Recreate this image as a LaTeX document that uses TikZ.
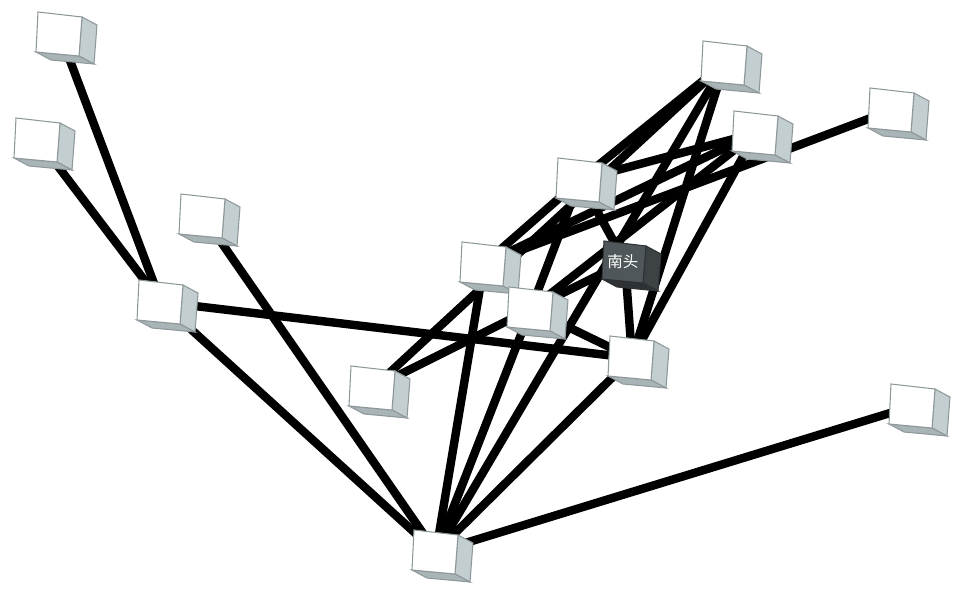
\documentclass[tikz,border=0pt]{standalone}
\usepackage{fontspec}
\newfontfamily\cjkfont{Noto Sans CJK SC}
\definecolor{cubeside}{HTML}{C3CED1}
\definecolor{cubebottom}{HTML}{A9B4B7}
\definecolor{cubeedge}{HTML}{8E989B}
\definecolor{darkfront}{HTML}{50575A}
\definecolor{darkside}{HTML}{3D4245}
\definecolor{darkbottom}{HTML}{2E3234}
\tikzset{
	cube/.pic={
		\filldraw[fill=cubeside,draw=cubeedge,line width=.3pt] (.22,.17) -- (.37,.09) -- (.34,-.30) -- (.19,-.22) -- cycle;
		\filldraw[fill=cubebottom,draw=cubeedge,line width=.3pt] (-.24,-.18) -- (.19,-.22) -- (.34,-.30) -- (-.09,-.26) -- cycle;
		\filldraw[fill=white,draw=cubeedge,line width=.3pt] (-.22,.22) -- (.22,.17) -- (.19,-.22) -- (-.24,-.18) -- cycle;
	},
	darkcube/.pic={
		\filldraw[fill=darkside,draw=darkbottom,line width=.3pt] (.21,.16) -- (.36,.08) -- (.33,-.29) -- (.18,-.21) -- cycle;
		\filldraw[fill=darkbottom,draw=darkbottom,line width=.3pt] (-.23,-.17) -- (.18,-.21) -- (.33,-.29) -- (-.08,-.25) -- cycle;
		\filldraw[fill=darkfront,draw=darkbottom,line width=.3pt] (-.21,.21) -- (.21,.16) -- (.18,-.21) -- (-.23,-.17) -- cycle;
	}
}
\begin{document}
\begin{tikzpicture}[link/.style={line width=2.4pt,black}]
	\useasboundingbox (0,0) rectangle (9.6,5.94);
	\coordinate (A) at (0.60,5.60); \coordinate (B) at (0.38,4.54);
	\coordinate (C) at (2.03,3.78); \coordinate (D) at (1.61,2.92);
	\coordinate (E) at (7.25,5.31); \coordinate (F) at (8.92,4.84);
	\coordinate (G) at (7.56,4.61); \coordinate (H) at (5.80,4.14);
	\coordinate (I) at (4.84,3.30); \coordinate (N) at (6.25,3.32);
	\coordinate (J) at (5.31,2.85); \coordinate (K) at (6.32,2.36);
	\coordinate (L) at (3.73,2.06); \coordinate (M) at (9.13,1.88);
	\coordinate (P) at (4.36,0.42);
	
	\draw[link] (A) -- (D); \draw[link] (B) -- (D); \draw[link] (D) -- (K); \draw[link] (D) -- (P);
	\draw[link] (C) -- (P); \draw[link] (P) -- (M); \draw[link] (P) -- (I); \draw[link] (P) -- (J);
	\draw[link] (P) -- (E); \draw[link] (P) -- (K);
	\draw[link] (L) -- (E); \draw[link] (L) -- (J); \draw[link] (J) -- (K);
	\draw[link] (I) -- (F); \draw[link] (I) -- (G); \draw[link] (H) -- (G); \draw[link] (H) -- (E);
	\draw[link] (E) -- (K); \draw[link] (G) -- (K); \draw[link] (H) -- (N); \draw[link] (N) -- (K);
	\draw[link] (H) -- (J); \draw[link] (H) -- (I); \draw[link] (J) -- (N); \draw[link] (J) -- (G);
	
	\foreach \c in {A,B,C,D,E,F,G,H,I,J,K,L,M,P} \pic at (\c) {cube};
	\pic at (N) {darkcube};
	\node[text=white,font=\cjkfont\fontsize{4.4}{5}\selectfont,inner sep=0pt,xshift=-0.6pt] (NL) at (N) {南头};
\end{tikzpicture}
\end{document}
